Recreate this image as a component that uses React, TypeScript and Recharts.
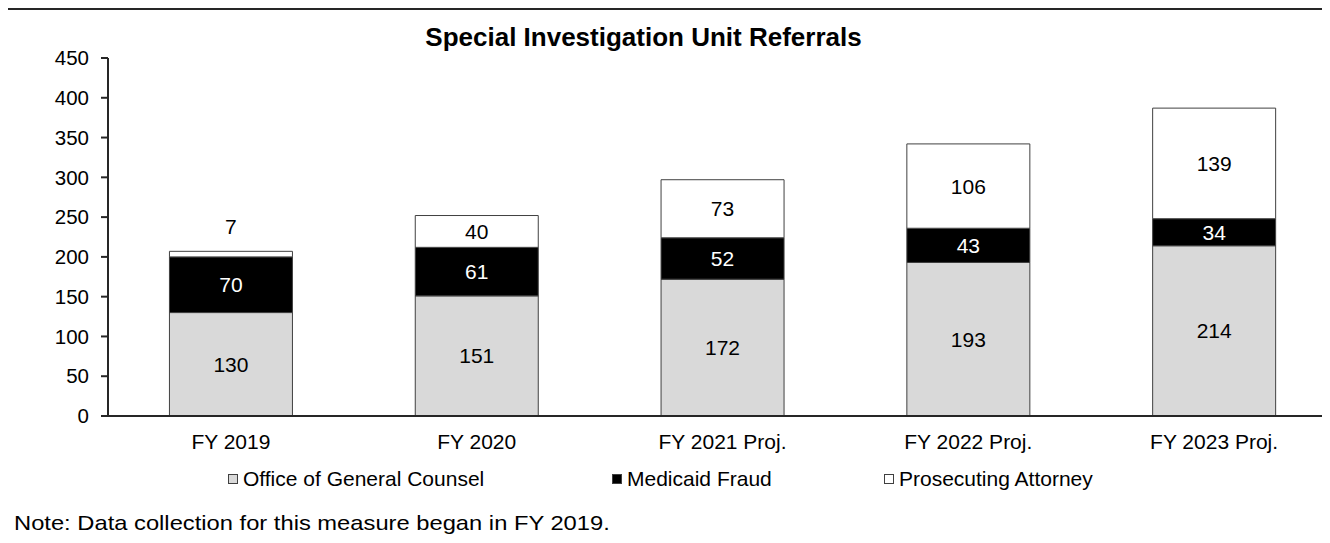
import React from 'react';
import { BarChart, Bar, XAxis, YAxis, LabelList } from 'recharts';

const categories = ['FY 2019', 'FY 2020', 'FY 2021 Proj.', 'FY 2022 Proj.', 'FY 2023 Proj.'];
const officeOfGeneralCounsel = [130, 151, 172, 193, 214];
const medicaidFraud = [70, 61, 52, 43, 34];
const prosecutingAttorney = [7, 40, 73, 106, 139];
const yTicks = [0, 50, 100, 150, 200, 250, 300, 350, 400, 450];

const seriesNames = ['Office of General Counsel', 'Medicaid Fraud', 'Prosecuting Attorney'];
const seriesKeys = ['ogc', 'mf', 'pa'];
const seriesFills = ['#D9D9D9', '#000000', '#FFFFFF'];
const labelFills = ['#000000', '#FFFFFF', '#000000'];

const data = categories.map((c, i) => ({
  name: c,
  ogc: officeOfGeneralCounsel[i],
  mf: medicaidFraud[i],
  pa: prosecutingAttorney[i],
}));

const FONT = '"Liberation Sans", Arial, sans-serif';

const makeLabel = (color: string) => (props: any) => {
  const { x, y, width, height, value } = props;
  const cx = Number(x) + Number(width) / 2;
  const small = Math.abs(Number(height)) < 15;
  const cy = small ? Number(y) - 25 : Number(y) + Number(height) / 2;
  return (
    <text
      x={cx}
      y={cy}
      textAnchor="middle"
      dominantBaseline="central"
      fill={small ? '#000000' : color}
      fontSize={21}
      fontFamily={FONT}
    >
      {value}
    </text>
  );
};

const legendLefts = [228, 612, 884];

export default function App() {
  return (
    <div
      style={{
        position: 'relative',
        margin: -8,
        width: 1330,
        height: 543,
        overflow: 'hidden',
        background: '#fff',
        fontFamily: FONT,
      }}
    >
      <div
        style={{
          position: 'absolute',
          left: 5,
          top: 8,
          width: 1400,
          height: 600,
          border: '2px solid #262626',
          boxSizing: 'border-box',
        }}
      />
      <div
        style={{
          position: 'absolute',
          left: 0,
          top: 24,
          width: 1287,
          textAlign: 'center',
          fontWeight: 'bold',
          fontSize: 26,
          lineHeight: '26px',
          color: '#000',
        }}
      >
        Special Investigation Unit Referrals
      </div>
      <div style={{ position: 'absolute', left: 0, top: 0 }}>
        <BarChart
          width={1400}
          height={543}
          data={data}
          margin={{ top: 58, right: 63, bottom: 97, left: 0 }}
          barCategoryGap="25%"
        >
          <XAxis
            dataKey="name"
            height={30}
            tickLine={false}
            tickSize={0}
            tickMargin={18}
            axisLine={{ stroke: '#262626', strokeWidth: 2 }}
            tick={{ fill: '#000', fontSize: 21, fontFamily: FONT }}
            interval={0}
          />
          <YAxis
            width={108}
            domain={[0, 450]}
            ticks={yTicks}
            interval={0}
            tickSize={7}
            tickMargin={12}
            axisLine={{ stroke: '#262626', strokeWidth: 2 }}
            tickLine={{ stroke: '#262626', strokeWidth: 2 }}
            tick={{ fill: '#000', fontSize: 20.5, fontFamily: FONT }}
          />
          {seriesKeys.map((k, i) => (
            <Bar
              key={k}
              dataKey={k}
              name={seriesNames[i]}
              stackId="a"
              fill={seriesFills[i]}
              stroke="#404040"
              strokeWidth={1}
              isAnimationActive={false}
            >
              <LabelList dataKey={k} content={makeLabel(labelFills[i])} />
            </Bar>
          ))}
        </BarChart>
      </div>
      {seriesNames.map((n, i) => (
        <div
          key={n}
          style={{
            position: 'absolute',
            left: legendLefts[i],
            top: 468,
            display: 'flex',
            alignItems: 'center',
            fontSize: 21,
            lineHeight: '21px',
            color: '#000',
            whiteSpace: 'nowrap',
          }}
        >
          <span
            style={{
              display: 'inline-block',
              width: 10,
              height: 10,
              background: seriesFills[i],
              border: '1px solid #404040',
              boxSizing: 'border-box',
              marginRight: 5,
            }}
          />
          {n}
        </div>
      ))}
      <div
        style={{
          position: 'absolute',
          left: 14,
          top: 512,
          fontSize: 21,
          lineHeight: '21px',
          color: '#000',
          whiteSpace: 'nowrap',
          transform: 'scaleX(1.13)',
          transformOrigin: 'left center',
        }}
      >
        Note: Data collection for this measure began in FY 2019.
      </div>
    </div>
  );
}
